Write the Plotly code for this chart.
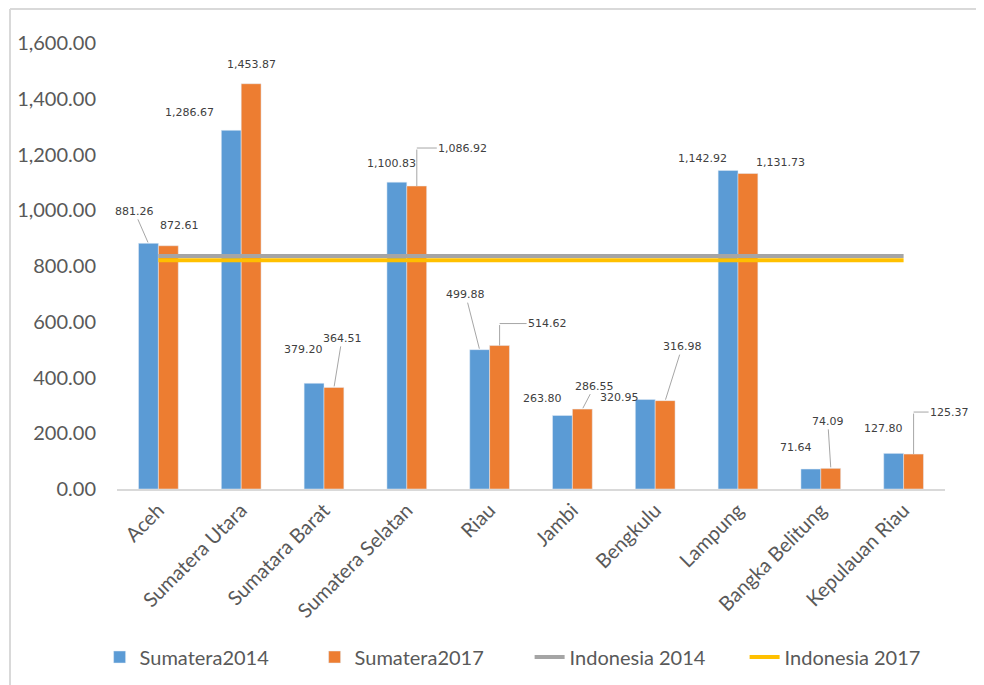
import plotly.graph_objects as go

categories = ["Aceh", "Sumatera Utara", "Sumatara Barat", "Sumatera Selatan", "Riau",
              "Jambi", "Bengkulu", "Lampung", "Bangka Belitung", "Kepulauan Riau"]
sumatera_2014 = [881.26, 1286.67, 379.20, 1100.83, 499.88, 263.80, 320.95, 1142.92, 71.64, 127.80]
sumatera_2017 = [872.61, 1453.87, 364.51, 1086.92, 514.62, 286.55, 316.98, 1131.73, 74.09, 125.37]
indonesia_2014 = 836.0
indonesia_2017 = 821.0
y_ticks = [0, 200, 400, 600, 800, 1000, 1200, 1400, 1600]

# label placement (pixel offsets from bar top): (dx, dy, leader) leader: none/line/elbow
lab_2014 = [(-14, -32, "line"), (-42, -18, "none"), (-11, -34, "none"), (-5, -19, "none"),
            (-14, -55, "line"), (-20, -17, "none"), (-26, -2, "none"), (-26, -12, "none"),
            (-15, -22, "none"), (-10, -25, "none")]
lab_2017 = [(11, -20, "none"), (0, -19, "none"), (8, -49, "line"), (46, -38, "elbow"),
            (48, -22, "elbow"), (12, -23, "line"), (17, -54, "line"), (32, -11, "none"),
            (-3, -47, "line"), (36, -42, "elbow")]

BLUE, ORANGE, GREY, YELLOW = "#5B9BD5", "#ED7D31", "#A5A5A5", "#FFC000"
TXT = "#595959"

fig = go.Figure()
fig.add_trace(go.Bar(name="Sumatera2014", x=categories, y=sumatera_2014, marker_color=BLUE))
fig.add_trace(go.Bar(name="Sumatera2017", x=categories, y=sumatera_2017, marker_color=ORANGE))
fig.add_trace(go.Scatter(name="Indonesia 2014", x=categories, y=[indonesia_2014] * len(categories),
                         mode="lines", line=dict(color=GREY, width=4)))
fig.add_trace(go.Scatter(name="Indonesia 2017", x=categories, y=[indonesia_2017] * len(categories),
                         mode="lines", line=dict(color=YELLOW, width=4)))

LFONT = dict(family="DejaVu Sans", size=11, color="#404040")
LEAD = "#A6A6A6"
annotations = []


def add_label(cat, val, shift, spec):
    dx, dy, kind = spec
    text = f"{val:,.2f}"
    if kind == "elbow":
        annotations.append(dict(x=cat, y=val, xref="x", yref="y", xshift=shift, text="",
                                showarrow=True, arrowhead=0, arrowwidth=1, arrowcolor=LEAD,
                                ax=0, ay=dy, standoff=0, startstandoff=0))
        annotations.append(dict(x=cat, y=val, xref="x", yref="y", xshift=shift, yshift=-dy,
                                text=text, font=LFONT, showarrow=True, arrowhead=0,
                                arrowwidth=1, arrowcolor=LEAD, ax=dx, ay=0, standoff=0))
    else:
        annotations.append(dict(x=cat, y=val, xref="x", yref="y", xshift=shift, text=text,
                                font=LFONT, showarrow=True, arrowhead=0, arrowwidth=1,
                                arrowcolor=LEAD if kind == "line" else "rgba(0,0,0,0)",
                                ax=dx, ay=dy, standoff=1))


for c, v, s in zip(categories, sumatera_2014, lab_2014):
    add_label(c, v, -10, s)
for c, v, s in zip(categories, sumatera_2017, lab_2017):
    add_label(c, v, 10, s)

L, R, T, B = 109, 47, 35, 204
W, H = 984, 685
pw, ph = W - L - R, H - T - B
bx = (2 - L) / pw
by = (ph + T - 1) / ph
shapes = [
    dict(type="line", xref="paper", yref="paper", x0=bx, x1=bx, y0=-0.6, y1=by,
         line=dict(color="#D9D9D9", width=2)),
    dict(type="line", xref="paper", yref="paper", x0=bx, x1=1.2, y0=by, y1=by,
         line=dict(color="#D9D9D9", width=2)),
]

fig.update_layout(
    width=W, height=H,
    margin=dict(l=L, r=R, t=T, b=B, autoexpand=False),
    paper_bgcolor="white", plot_bgcolor="white",
    barmode="group", bargap=0.52, bargroupgap=0,
    font=dict(family="Lato", color=TXT),
    xaxis=dict(tickangle=-45, tickfont=dict(size=20, color=TXT), showgrid=False,
               range=[-0.5, len(categories) - 0.5], autorange=False,
               showline=True, linecolor="#D9D9D9", linewidth=1.5, ticks="", automargin=False),
    yaxis=dict(range=[0, 1600], tickvals=y_ticks, tickformat=",.2f",
               tickfont=dict(size=20, color=TXT), showgrid=False, zeroline=False,
               showline=False, ticks="", automargin=False, ticklabelstandoff=20),
    legend=dict(orientation="h", x=-0.021, xanchor="left", y=-0.3767, yanchor="middle",
                font=dict(size=20, color=TXT), traceorder="normal", entrywidth=170,
                entrywidthmode="pixels"),
    annotations=annotations, shapes=shapes,
)

fig.write_html("out.html")
